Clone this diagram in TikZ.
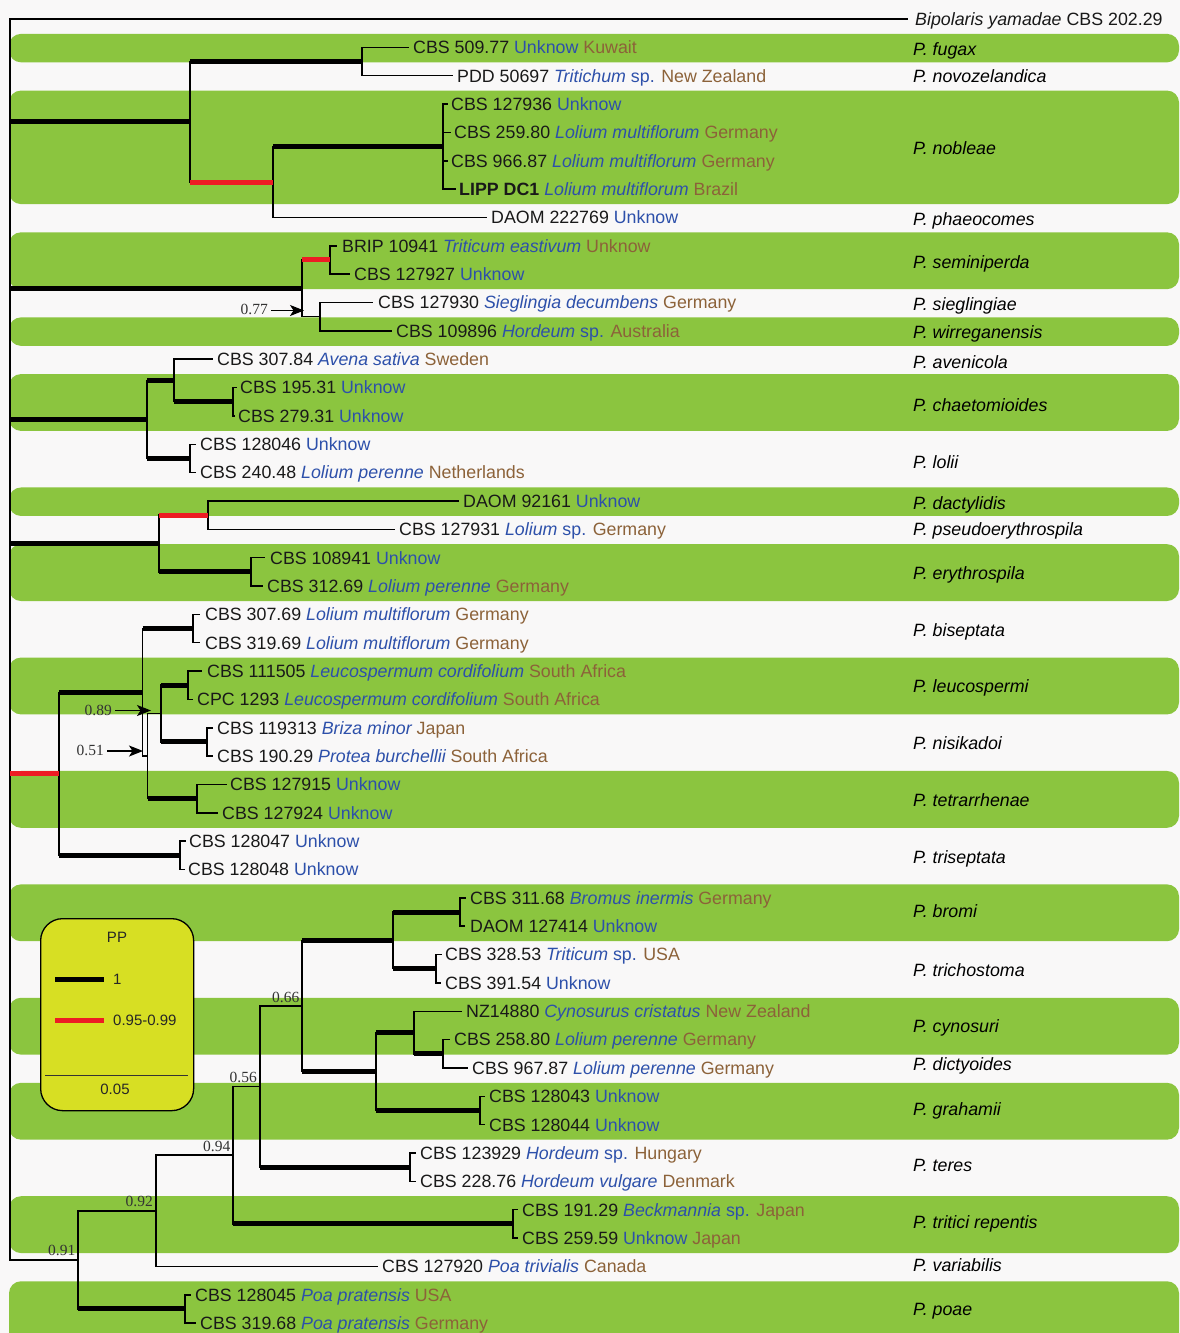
\documentclass[tikz,border=0pt]{standalone}
\usepackage{fontspec}
\setmainfont{Liberation Sans}
\newfontfamily\ppfont{Liberation Serif}
\usetikzlibrary{arrows.meta}

\definecolor{bandgreen}{RGB}{139,197,63}
\definecolor{ppred}{RGB}{237,28,36}
\definecolor{legendyellow}{RGB}{215,223,35}
\definecolor{hostblue}{RGB}{45,80,170}
\definecolor{ctrybrown}{RGB}{140,98,57}
\definecolor{paper}{RGB}{249,248,248}
\definecolor{idblack}{RGB}{25,25,25}

% host / country colouring of the strain labels
\newcommand\unk{\textcolor{hostblue}{Unknow}}
\newcommand\hst[1]{\textcolor{hostblue}{\itshape #1}}
\newcommand\spc{\textcolor{hostblue}{sp.}}
\newcommand\ctry[1]{\textcolor{ctrybrown}{#1}}

% a terminal branch end and its strain label
\newcommand\leafrow[5]{%
  \coordinate (#1) at (#2,#3);
  \node[lbl] (#1t) at (#4,#3) {#5};}
% horizontal branch from a parent's stem to a child
\newcommand\brx[3]{\draw[#1] (#2 |- #3) -- (#3);}
% vertical stem of a parent between two children
\newcommand\vtx[3]{\draw[thinbr] (#1 |- #2) -- (#1 |- #3);}

\tikzset{
  thinbr/.style={line width=1.5pt, line cap=rect, draw=black},
  pponebr/.style={line width=5pt, draw=black},
  ppredbr/.style={line width=5pt, draw=ppred},
  band/.style={fill=bandgreen, rounded corners=12pt},
  lbl/.style={anchor=west, inner sep=0pt, text height=12.7pt, text depth=0pt,
    font=\fontsize{17.8}{20}\selectfont, text=idblack},
  spname/.style={lbl, font=\fontsize{17.8}{20}\selectfont\itshape, text=black},
  pplab/.style={anchor=base east, inner sep=0pt,
    font=\ppfont\fontsize{15.5}{16}\selectfont, text=black!80},
  pparrow/.style={line width=1.4pt, draw=black,
    -{Stealth[length=14pt,width=11pt,inset=3.5pt]}},
  leglbl/.style={inner sep=0pt, text height=10.5pt, text depth=0pt,
    font=\fontsize{15}{16}\selectfont, text=black!85},
}

\begin{document}
\begin{tikzpicture}[x=1pt,y=-1pt]
\useasboundingbox (0,0) rectangle (1180,1333);
\clip (0,0) rectangle (1180,1333);
\fill[paper] (0,0) rectangle (1180,1333);

% species bands
\fill[band] (9,33.85) rectangle (1179,62.35);
\fill[band] (9,90.55) rectangle (1179,204.1);
\fill[band] (9,232.3) rectangle (1179,289.15);
\fill[band] (9,317.35) rectangle (1179,345.85);
\fill[band] (9,374.05) rectangle (1179,430.9);
\fill[band] (9,487.45) rectangle (1179,515.95);
\fill[band] (9,544.15) rectangle (1179,601);
\fill[band] (9,657.55) rectangle (1179,714.4);
\fill[band] (9,770.95) rectangle (1179,827.8);
\fill[band] (9,884.35) rectangle (1179,941.2);
\fill[band] (9,997.75) rectangle (1179,1054.6);
\fill[band] (9,1082.8) rectangle (1179,1139.65);
\fill[band] (9,1196.2) rectangle (1179,1253.05);
\fill[band] (9,1281.25) rectangle (1179,1350);

% internal nodes
\coordinate (root) at (10,640);
\coordinate (N1) at (190,121.77);
\coordinate (N2) at (362,61.525);
\coordinate (N3) at (273,182.01);
\coordinate (N4) at (443,146.575);
\coordinate (N5) at (302,288.325);
\coordinate (N6) at (330,259.975);
\coordinate (N7) at (320,316.675);
\coordinate (N8) at (147,419.44);
\coordinate (N9) at (174,380.46);
\coordinate (N10) at (233,401.725);
\coordinate (N11) at (190,458.425);
\coordinate (N12) at (159,543.475);
\coordinate (N13) at (208,515.125);
\coordinate (N14) at (251,571.825);
\coordinate (N15) at (59,773.82);
\coordinate (N16) at (142.5,692.31);
\coordinate (N17) at (193,628.525);
\coordinate (N18) at (147.5,756.1);
\coordinate (NLN) at (161,713.575);
\coordinate (NL) at (188,685.225);
\coordinate (NN) at (207,741.925);
\coordinate (NT) at (197,798.625);
\coordinate (NTri) at (180,855.325);
\coordinate (N091) at (78,1259.86);
\coordinate (N092) at (156,1210.8);
\coordinate (N094) at (233,1155.21);
\coordinate (N056) at (260,1086.55);
\coordinate (N066) at (302,1005.93);
\coordinate (NB) at (393,940.375);
\coordinate (NBr) at (460,912.025);
\coordinate (NTrc) at (436,968.725);
\coordinate (NC) at (376,1071.49);
\coordinate (ND) at (414,1032.51);
\coordinate (NE) at (443,1053.775);
\coordinate (NG) at (480,1110.475);
\coordinate (NTe) at (410,1167.175);
\coordinate (NTr) at (513,1223.875);
\coordinate (NPo) at (185,1308.925);

% leaves and strain labels
\coordinate (bip) at (907,19);
\node[lbl] (bipt) at (915,19) {\textit{Bipolaris yamadae} CBS 202.29};
\leafrow{l1}{408}{47.35}{413}{CBS 509.77 \unk{} \ctry{Kuwait}}
\leafrow{l2}{452}{75.7}{457}{PDD 50697 \hst{Tritichum} \spc{} \ctry{New Zealand}}
\leafrow{l3}{447}{104.05}{451}{CBS 127936 \unk}
\leafrow{l4}{450}{132.4}{454}{CBS 259.80 \hst{Lolium multiflorum} \ctry{Germany}}
\leafrow{l5}{447}{160.75}{451}{CBS 966.87 \hst{Lolium multiflorum} \ctry{Germany}}
\leafrow{l6}{455}{189.1}{459}{\textbf{LIPP DC1} \hst{Lolium multiflorum} \ctry{Brazil}}
\leafrow{l7}{486}{217.45}{491}{DAOM 222769 \unk}
\leafrow{l8}{336}{245.8}{342}{BRIP 10941 \hst{Triticum eastivum} \ctry{Unknow}}
\leafrow{l9}{349}{274.15}{354}{CBS 127927 \unk}
\leafrow{l10}{372}{302.5}{378}{CBS 127930 \hst{Sieglingia decumbens} \ctry{Germany}}
\leafrow{l11}{391}{330.85}{396}{CBS 109896 \hst{Hordeum} \spc{} \ctry{Australia}}
\leafrow{l12}{212}{359.2}{217}{CBS 307.84 \hst{Avena sativa} \ctry{Sweden}}
\leafrow{l13}{236}{387.55}{240}{CBS 195.31 \unk}
\leafrow{l14}{234}{415.9}{238}{CBS 279.31 \unk}
\leafrow{l15}{195}{444.25}{200}{CBS 128046 \unk}
\leafrow{l16}{195}{472.6}{200}{CBS 240.48 \hst{Lolium perenne} \ctry{Netherlands}}
\leafrow{l17}{458}{500.95}{463}{DAOM 92161 \unk}
\leafrow{l18}{394}{529.3}{399}{CBS 127931 \hst{Lolium} \spc{} \ctry{Germany}}
\leafrow{l19}{264}{557.65}{270}{CBS 108941 \unk}
\leafrow{l20}{262}{586}{267}{CBS 312.69 \hst{Lolium perenne} \ctry{Germany}}
\leafrow{l21}{199}{614.35}{205}{CBS 307.69 \hst{Lolium multiflorum} \ctry{Germany}}
\leafrow{l22}{199}{642.7}{205}{CBS 319.69 \hst{Lolium multiflorum} \ctry{Germany}}
\leafrow{l23}{201}{671.05}{207}{CBS 111505 \hst{Leucospermum cordifolium} \ctry{South Africa}}
\leafrow{l24}{192}{699.4}{197}{CPC 1293 \hst{Leucospermum cordifolium} \ctry{South Africa}}
\leafrow{l25}{212}{727.75}{217}{CBS 119313 \hst{Briza minor} \ctry{Japan}}
\leafrow{l26}{212}{756.1}{217}{CBS 190.29 \hst{Protea burchellii} \ctry{South Africa}}
\leafrow{l27}{226}{784.45}{230}{CBS 127915 \unk}
\leafrow{l28}{217}{812.8}{222}{CBS 127924 \unk}
\leafrow{l29}{185}{841.15}{189}{CBS 128047 \unk}
\leafrow{l30}{184}{869.5}{188}{CBS 128048 \unk}
\leafrow{l31}{465}{897.85}{470}{CBS 311.68 \hst{Bromus inermis} \ctry{Germany}}
\leafrow{l32}{464}{926.2}{470}{DAOM 127414 \unk}
\leafrow{l33}{441}{954.55}{445}{CBS 328.53 \hst{Triticum} \spc{} \ctry{USA}}
\leafrow{l34}{440}{982.9}{445}{CBS 391.54 \unk}
\leafrow{l35}{461}{1011.25}{466}{NZ14880 \hst{Cynosurus cristatus} \ctry{New Zealand}}
\leafrow{l36}{449}{1039.6}{454}{CBS 258.80 \hst{Lolium perenne} \ctry{Germany}}
\leafrow{l37}{467}{1067.95}{472}{CBS 967.87 \hst{Lolium perenne} \ctry{Germany}}
\leafrow{l38}{484}{1096.3}{489}{CBS 128043 \unk}
\leafrow{l39}{484}{1124.65}{489}{CBS 128044 \unk}
\leafrow{l40}{415}{1153}{420}{CBS 123929 \hst{Hordeum} \spc{} \ctry{Hungary}}
\leafrow{l41}{415}{1181.35}{420}{CBS 228.76 \hst{Hordeum vulgare} \ctry{Denmark}}
\leafrow{l42}{517}{1209.7}{522}{CBS 191.29 \hst{Beckmannia} \spc{} \ctry{Japan}}
\leafrow{l43}{517}{1238.05}{522}{CBS 259.59 \unk{} \ctry{Japan}}
\leafrow{l44}{377}{1266.4}{382}{CBS 127920 \hst{Poa trivialis} \ctry{Canada}}
\leafrow{l45}{190}{1294.75}{195}{CBS 128045 \hst{Poa pratensis} \ctry{USA}}
\leafrow{l46}{195}{1323.1}{200}{CBS 319.68 \hst{Poa pratensis} \ctry{Germany}}

% stems
\vtx{root}{bip}{N091}
\vtx{N1}{N2}{N3}
\vtx{N2}{l1}{l2}
\vtx{N3}{N4}{l7}
\vtx{N4}{l3}{l6}
\vtx{N5}{N6}{N7}
\vtx{N6}{l8}{l9}
\vtx{N7}{l10}{l11}
\vtx{N8}{N9}{N11}
\vtx{N9}{l12}{N10}
\vtx{N10}{l13}{l14}
\vtx{N11}{l15}{l16}
\vtx{N12}{N13}{N14}
\vtx{N13}{l17}{l18}
\vtx{N14}{l19}{l20}
\vtx{N15}{N16}{NTri}
\vtx{N16}{N17}{N18}
\vtx{N17}{l21}{l22}
\vtx{N18}{NLN}{NT}
\vtx{NLN}{NL}{NN}
\vtx{NL}{l23}{l24}
\vtx{NN}{l25}{l26}
\vtx{NT}{l27}{l28}
\vtx{NTri}{l29}{l30}
\vtx{N091}{N092}{NPo}
\vtx{N092}{N094}{l44}
\vtx{N094}{N056}{NTr}
\vtx{N056}{N066}{NTe}
\vtx{N066}{NB}{NC}
\vtx{NB}{NBr}{NTrc}
\vtx{NBr}{l31}{l32}
\vtx{NTrc}{l33}{l34}
\vtx{NC}{ND}{NG}
\vtx{ND}{l35}{NE}
\vtx{NE}{l36}{l37}
\vtx{NG}{l38}{l39}
\vtx{NTe}{l40}{l41}
\vtx{NTr}{l42}{l43}
\vtx{NPo}{l45}{l46}

% branches
\brx{thinbr}{root}{bip}
\brx{pponebr}{root}{N1}
\brx{pponebr}{root}{N5}
\brx{pponebr}{root}{N8}
\brx{pponebr}{root}{N12}
\brx{ppredbr}{root}{N15}
\brx{thinbr}{root}{N091}
\brx{pponebr}{N1}{N2}
\brx{ppredbr}{N1}{N3}
\brx{thinbr}{N2}{l1}
\brx{thinbr}{N2}{l2}
\brx{pponebr}{N3}{N4}
\brx{thinbr}{N3}{l7}
\brx{thinbr}{N4}{l3}
\brx{thinbr}{N4}{l4}
\brx{thinbr}{N4}{l5}
\brx{thinbr}{N4}{l6}
\brx{ppredbr}{N5}{N6}
\brx{thinbr}{N5}{N7}
\brx{thinbr}{N6}{l8}
\brx{thinbr}{N6}{l9}
\brx{thinbr}{N7}{l10}
\brx{thinbr}{N7}{l11}
\brx{pponebr}{N8}{N9}
\brx{pponebr}{N8}{N11}
\brx{thinbr}{N9}{l12}
\brx{pponebr}{N9}{N10}
\brx{thinbr}{N10}{l13}
\brx{thinbr}{N10}{l14}
\brx{thinbr}{N11}{l15}
\brx{thinbr}{N11}{l16}
\brx{ppredbr}{N12}{N13}
\brx{pponebr}{N12}{N14}
\brx{thinbr}{N13}{l17}
\brx{thinbr}{N13}{l18}
\brx{thinbr}{N14}{l19}
\brx{thinbr}{N14}{l20}
\brx{pponebr}{N15}{N16}
\brx{pponebr}{N15}{NTri}
\brx{pponebr}{N16}{N17}
\brx{thinbr}{N16}{N18}
\brx{thinbr}{N18}{NLN}
\brx{pponebr}{N18}{NT}
\brx{pponebr}{NLN}{NL}
\brx{pponebr}{NLN}{NN}
\brx{thinbr}{N17}{l21}
\brx{thinbr}{N17}{l22}
\brx{thinbr}{NL}{l23}
\brx{thinbr}{NL}{l24}
\brx{thinbr}{NN}{l25}
\brx{thinbr}{NN}{l26}
\brx{thinbr}{NT}{l27}
\brx{thinbr}{NT}{l28}
\brx{thinbr}{NTri}{l29}
\brx{thinbr}{NTri}{l30}
\brx{thinbr}{N091}{N092}
\brx{pponebr}{N091}{NPo}
\brx{thinbr}{N092}{N094}
\brx{thinbr}{N092}{l44}
\brx{thinbr}{N094}{N056}
\brx{pponebr}{N094}{NTr}
\brx{thinbr}{N056}{N066}
\brx{pponebr}{N056}{NTe}
\brx{pponebr}{N066}{NB}
\brx{pponebr}{N066}{NC}
\brx{pponebr}{NB}{NBr}
\brx{pponebr}{NB}{NTrc}
\brx{thinbr}{NBr}{l31}
\brx{thinbr}{NBr}{l32}
\brx{thinbr}{NTrc}{l33}
\brx{thinbr}{NTrc}{l34}
\brx{pponebr}{NC}{ND}
\brx{pponebr}{NC}{NG}
\brx{thinbr}{ND}{l35}
\brx{pponebr}{ND}{NE}
\brx{thinbr}{NE}{l36}
\brx{thinbr}{NE}{l37}
\brx{thinbr}{NG}{l38}
\brx{thinbr}{NG}{l39}
\brx{thinbr}{NTe}{l40}
\brx{thinbr}{NTe}{l41}
\brx{thinbr}{NTr}{l42}
\brx{thinbr}{NTr}{l43}
\brx{thinbr}{NPo}{l45}
\brx{thinbr}{NPo}{l46}

% posterior probabilities below 0.95
\node[pplab] (p066) at (299.5,1002) {0.66};
\node[pplab] (p056) at (257,1082.5) {0.56};
\node[pplab] (p094) at (230.5,1151) {0.94};
\node[pplab] (p092) at (153,1206.5) {0.92};
\node[pplab] (p091) at (75.5,1255.5) {0.91};
\node[pplab] (p077) at (268,314.5) {0.77};
\node[pplab] (p089) at (112,715) {0.89};
\node[pplab] (p051) at (104,755.5) {0.51};
\coordinate (a077) at (271,310.5);
\coordinate (b077) at (304,310.5);
\coordinate (a089) at (115,710.5);
\coordinate (b089) at (151,710.5);
\coordinate (a051) at (107,751);
\coordinate (b051) at (143,751);
\draw[pparrow] (a077) -- (b077);
\draw[pparrow] (a089) -- (b089);
\draw[pparrow] (a051) -- (b051);

% species names
\node[spname] (s01) at (913,49) {P. fugax};
\node[spname] (s02) at (913,75.7) {P. novozelandica};
\node[spname] (s03) at (913,148) {P. nobleae};
\node[spname] (s04) at (913,219) {P. phaeocomes};
\node[spname] (s05) at (913,262.5) {P. seminiperda};
\node[spname] (s06) at (913,304) {P. sieglingiae};
\node[spname] (s07) at (913,332.5) {P. wirreganensis};
\node[spname] (s08) at (913,362) {P. avenicola};
\node[spname] (s09) at (913,405) {P. chaetomioides};
\node[spname] (s10) at (913,462) {P. lolii};
\node[spname] (s11) at (913,503) {P. dactylidis};
\node[spname] (s12) at (913,529.3) {P. pseudoerythrospila};
\node[spname] (s13) at (913,573.5) {P. erythrospila};
\node[spname] (s14) at (913,630) {P. biseptata};
\node[spname] (s15) at (913,686) {P. leucospermi};
\node[spname] (s16) at (913,743.5) {P. nisikadoi};
\node[spname] (s17) at (913,800) {P. tetrarrhenae};
\node[spname] (s18) at (913,857) {P. triseptata};
\node[spname] (s19) at (913,911.5) {P. bromi};
\node[spname] (s20) at (913,970) {P. trichostoma};
\node[spname] (s21) at (913,1026) {P. cynosuri};
\node[spname] (s22) at (913,1064.5) {P. dictyoides};
\node[spname] (s23) at (913,1109.5) {P. grahamii};
\node[spname] (s24) at (913,1165.5) {P. teres};
\node[spname] (s25) at (913,1222.5) {P. tritici repentis};
\node[spname] (s26) at (913,1265.5) {P. variabilis};
\node[spname] (s27) at (913,1309) {P. poae};

% legend
\node[draw=black, line width=1.3pt, fill=legendyellow, rounded corners=22pt,
  minimum width=153pt, minimum height=192pt, inner sep=0pt, anchor=north west]
  (legend) at (40,918) {};
\node[leglbl] (legpp) at (117,937) {PP};
\coordinate (k1a) at (55,979);
\coordinate (k1b) at (104,979);
\coordinate (k2a) at (55,1020);
\coordinate (k2b) at (104,1020);
\draw[pponebr] (k1a) -- (k1b);
\draw[ppredbr] (k2a) -- (k2b);
\node[leglbl, anchor=west] (leg1) at (113,979) {1};
\node[leglbl, anchor=west] (leg2) at (113,1020) {0.95-0.99};
\coordinate (sca) at (45,1075);
\coordinate (scb) at (188,1075);
\draw[line width=1pt, draw=black!80] (sca) -- (scb);
\node[leglbl] (legsc) at (115,1089) {0.05};
\end{tikzpicture}
\end{document}
